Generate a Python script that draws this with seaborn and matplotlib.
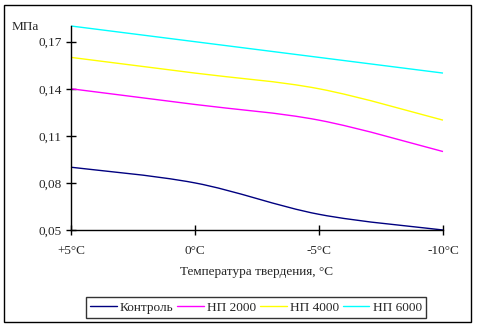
import matplotlib
matplotlib.use("Agg")
import matplotlib.pyplot as plt
import seaborn as sns
import pandas as pd
import numpy as np
from matplotlib.path import Path
from matplotlib.patches import PathPatch, Rectangle
from matplotlib.lines import Line2D

temps = ["+5°C", "0°C", "-5°C", "-10°C"]
control = [0.09, 0.08, 0.06, 0.05]
np2000 = [0.14, 0.13, 0.12, 0.10]
np4000 = [0.16, 0.15, 0.14, 0.12]
np6000 = [0.18, 0.17, 0.16, 0.15]
series_names = ["Контроль", "НП 2000", "НП 4000", "НП 6000"]
colors = ["#000080", "#FF00FF", "#FFFF00", "#00FFFF"]
yticks = [0.05, 0.08, 0.11, 0.14, 0.17]

sns.set_style("white")
plt.rcParams["font.family"] = ["Liberation Serif", "DejaVu Serif"]
plt.rcParams["font.size"] = 9.5

rows = []
for name, vals in zip(series_names, [control, np2000, np4000, np6000]):
    for i, v in enumerate(vals):
        rows.append({"pos": i, "temp": temps[i], "value": v, "series": name})
df = pd.DataFrame(rows)

fig = plt.figure(figsize=(4.78, 3.28), dpi=100)
ax = fig.add_axes([71 / 478, 1 - 230 / 328, (443 - 71) / 478, (230 - 26) / 328])

sns.lineplot(data=df, x="pos", y="value", hue="series", palette=colors,
             hue_order=series_names, ax=ax, legend=False, linewidth=1.0)


def smooth_path(x, y):
    # Catmull-Rom style cubic Bezier through the points
    pts = np.column_stack([x, y])
    n = len(pts)
    verts = [pts[0]]
    codes = [Path.MOVETO]
    for i in range(n - 1):
        p0 = pts[i - 1] if i > 0 else pts[i]
        p1 = pts[i]
        p2 = pts[i + 1]
        p3 = pts[i + 2] if i + 2 < n else pts[i + 1]
        c1 = p1 + (p2 - p0) / 6.0
        c2 = p2 - (p3 - p1) / 6.0
        verts += [c1, c2, p2]
        codes += [Path.CURVE4] * 3
    return Path(verts, codes)


for line in list(ax.lines):
    x, y = line.get_data()
    col = line.get_color()
    ax.add_patch(PathPatch(smooth_path(np.asarray(x, float), np.asarray(y, float)),
                           facecolor="none", edgecolor=col, linewidth=1.0,
                           clip_on=False))
    line.remove()

ax.set_xlim(0, 3)
ax.set_ylim(0.05, 0.18)
ax.set_xticks(range(len(temps)))
ax.set_xticklabels(temps)
ax.set_yticks(yticks)
ax.set_yticklabels([f"{t:.2f}".replace(".", ",") for t in yticks])
for s in ["top", "right"]:
    ax.spines[s].set_visible(False)
for s in ["left", "bottom"]:
    ax.spines[s].set_color("black")
    ax.spines[s].set_linewidth(1.0)
ax.tick_params(bottom=True, left=True, direction="inout", length=7, width=1,
               color="black", labelsize=9.5)
ax.tick_params(axis="x", pad=7)
ax.tick_params(axis="y", pad=3)
ax.set_xlabel("Температура твердения, °C", fontsize=9.5, labelpad=7)
ax.set_ylabel("")
ax.text(12 / 478, 1 - 27 / 328, "МПа", transform=fig.transFigure,
        fontsize=9.5, ha="left", va="center")
ax.grid(False)

handles = [Line2D([], [], color=c, linewidth=1.0) for c in colors]
leg = fig.legend(handles, series_names, loc="center",
                 bbox_to_anchor=(256 / 478, 1 - 307.5 / 328), ncol=4,
                 frameon=True, fancybox=False, fontsize=9.5,
                 handlelength=2.0, handletextpad=0.25, columnspacing=0.3,
                 borderpad=0.3, borderaxespad=0, edgecolor="black")
leg.get_frame().set_linewidth(1.0)

fig.patches.append(Rectangle((4 / 478, 1 - 322 / 328), 467 / 478, 317 / 328,
                             transform=fig.transFigure, fill=False,
                             edgecolor="black", linewidth=1.0))

fig.savefig("out.png", dpi=100, facecolor="white")
